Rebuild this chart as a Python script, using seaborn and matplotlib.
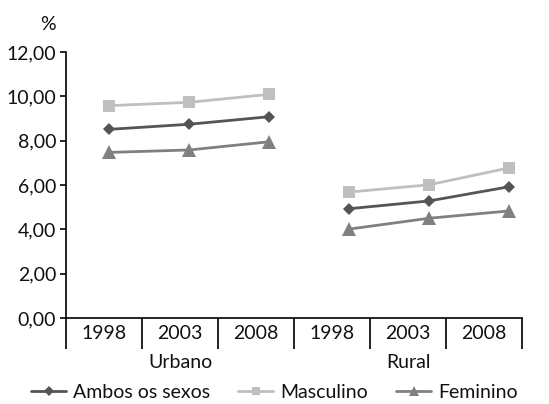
import matplotlib
matplotlib.use("Agg")
import matplotlib.pyplot as plt
import seaborn as sns
import pandas as pd
from matplotlib.ticker import FixedLocator, FuncFormatter

sns.set_theme(style="white")
plt.rcParams['font.family'] = ['Lato', 'DejaVu Sans']

areas = ["Urbano", "Rural"]
years = ["1998", "2003", "2008"]
series = ["Ambos os sexos", "Masculino", "Feminino"]
ambos = [8.51, 8.74, 9.08, 4.93, 5.28, 5.92]
masculino = [9.58, 9.73, 10.09, 5.68, 6.01, 6.77]
feminino = [7.47, 7.58, 7.95, 4.01, 4.50, 4.83]
yticks = [0, 2, 4, 6, 8, 10, 12]

rows = []
for name, vals in zip(series, [ambos, masculino, feminino]):
    for i, v in enumerate(vals):
        rows.append({"serie": name, "pos": i, "area": areas[i // 3],
                     "ano": years[i % 3], "valor": v})
df = pd.DataFrame(rows)

palette = {"Ambos os sexos": "#555555", "Masculino": "#BFBFBF", "Feminino": "#808080"}
markers = {"Ambos os sexos": "D", "Masculino": "s", "Feminino": "^"}
sizes = {"Ambos os sexos": 6.5, "Masculino": 8.5, "Feminino": 9.5}
FS = 14

fig = plt.figure(figsize=(5.49, 4.04), dpi=100)
ax = fig.add_axes([66/549, 1-318/404, (522-66)/549, (318-52)/404])

for k, area in enumerate(areas):
    sub = df[df["area"] == area]
    for name in series:
        s = sub[sub["serie"] == name]
        sns.lineplot(data=s, x="pos", y="valor", ax=ax, color=palette[name],
                     marker=markers[name], markersize=sizes[name],
                     markeredgewidth=0, linewidth=2.0,
                     label=name if k == 0 else None, legend=False)

ax.set_xlim(-0.5375, 5.1625)
ax.set_ylim(0, 12)
ax.set_xticks([])
ax.set_xlabel("")
ax.set_ylabel("")
ax.yaxis.set_major_locator(FixedLocator(yticks))
ax.yaxis.set_major_formatter(FuncFormatter(lambda v, p: f"{v:.2f}".replace(".", ",")))
ax.tick_params(axis="y", which="major", left=True, length=4, width=1.2,
               color="black", labelsize=FS, pad=3, labelcolor="#111111")
for sp in ["top", "right"]:
    ax.spines[sp].set_visible(False)
for sp in ["left", "bottom"]:
    ax.spines[sp].set_color("black")
    ax.spines[sp].set_linewidth(1.2)
ax.grid(False)

# category axis
ax2 = ax.twiny()
ax2.set_xlim(0, 6)
ax2.xaxis.tick_bottom()
for sp in ax2.spines.values():
    sp.set_visible(False)
ax2.set_xticks(range(7))
ax2.set_xticklabels([])
ax2.set_xticks([i + 0.5 for i in range(6)], minor=True)
ax2.set_xticklabels(years * 2, minor=True)
ax2.tick_params(axis="x", which="major", direction="out", length=22, width=1.2,
                color="black", bottom=True)
ax2.tick_params(axis="x", which="minor", length=0, labelsize=FS, pad=5,
                labelcolor="#111111")
tr = ax2.get_xaxis_transform()
for k, area in enumerate(areas):
    ax2.text(1.5 + 3*k, -(363-318)/266, area, transform=tr, ha="center",
             va="center", fontsize=FS, color="#111111")

fig.text(48/549, 1-24/404, "%", ha="center", va="center", fontsize=FS, color="#111111")

handles, labels = ax.get_legend_handles_labels()
fig.legend(handles, labels, loc="center", bbox_to_anchor=(0.5, 1-392/404),
           ncol=3, frameon=False, fontsize=FS, handlelength=1.8,
           handletextpad=0.36, columnspacing=1.45, markerscale=0.75,
           labelcolor="#111111")

fig.savefig("out.png", dpi=100)
